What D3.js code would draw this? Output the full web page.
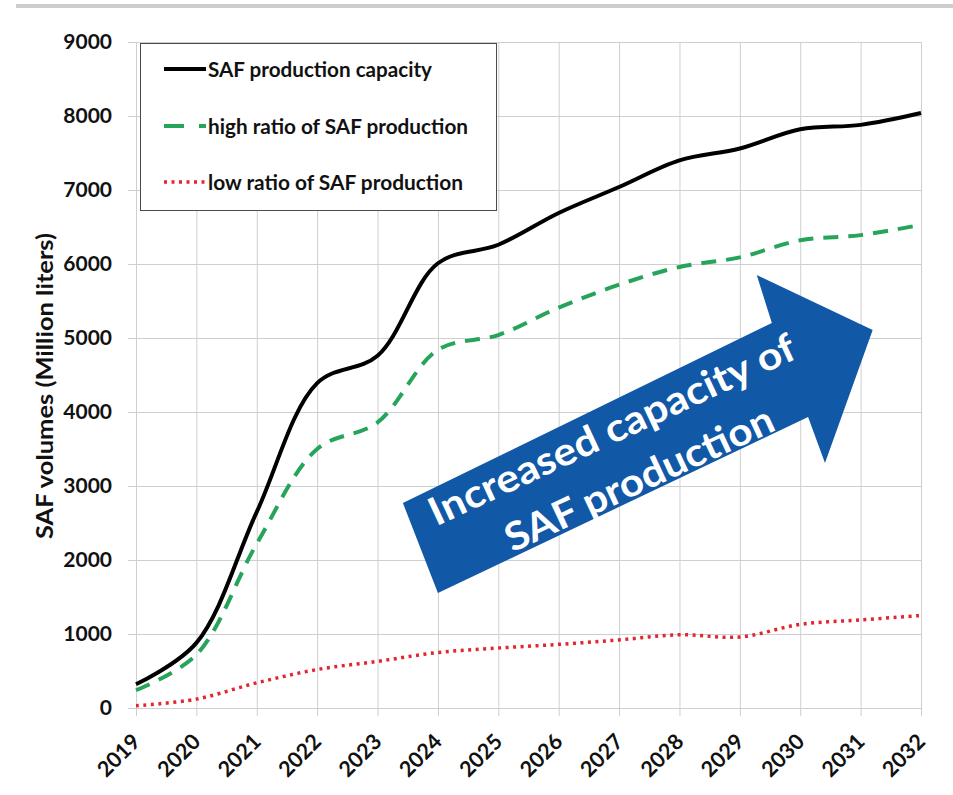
<!DOCTYPE html>
<html>
<head>
<meta charset="utf-8">
<script src="https://cdn.jsdelivr.net/npm/d3@7"></script>
<style>
  html, body { margin: 0; padding: 0; background: #fff; }
  svg { display: block; }
  text { font-family: Lato, "Open Sans", sans-serif; font-weight: bold; }
</style>
</head>
<body>
<svg id="chart" width="953" height="795"></svg>
<script>
// ---- data ----
const years = [2019, 2020, 2021, 2022, 2023, 2024, 2025, 2026, 2027, 2028, 2029, 2030, 2031, 2032];
const capacity = [320, 880, 2650, 4390, 4760, 6010, 6260, 6690, 7040, 7400, 7560, 7820, 7880, 8040];
const highRatio = [240, 720, 2220, 3500, 3860, 4840, 5040, 5410, 5720, 5960, 6090, 6320, 6390, 6530];
const lowRatio = [30, 120, 340, 520, 630, 750, 810, 860, 920, 990, 960, 1130, 1190, 1250];
const yTicks = [0, 1000, 2000, 3000, 4000, 5000, 6000, 7000, 8000, 9000];
const seriesNames = ["SAF production capacity", "high ratio of SAF production", "low ratio of SAF production"];
const yTitle = "SAF volumes (Million liters)";
const arrowText = ["Increased capacity of", "SAF production"];
// arrow annotation outline in data units (year, value)
const arrowYears = [2024.0, 2023.42, 2029.53, 2029.28, 2031.2, 2030.41, 2030.13];
const arrowValues = [1554, 2770, 5203, 5851, 5108, 3311, 3932];

// ---- layout ----
const pL = 136, pR = 921, pT = 42, pB = 708;
const svg = d3.select("#chart");

// top separator line
svg.append("rect").attr("x", 16).attr("y", 4).attr("width", 953 - 16).attr("height", 4).attr("fill", "#cdcdcd");

const x = d3.scaleLinear().domain([2019, 2032]).range([pL, pR]);
const y = d3.scaleLinear().domain([0, 9000]).range([pB, pT]);

const gridColor = "#cfcfcf";

// y axis with grid
const gy = svg.append("g").attr("transform", `translate(${pL},0)`)
  .call(d3.axisLeft(y).tickValues(yTicks).tickSizeInner(-(pR - pL)).tickSizeOuter(0).tickPadding(24).tickFormat(d3.format("d")));
gy.select(".domain").remove();
gy.selectAll(".tick line").attr("x1", -8).attr("stroke", gridColor).attr("stroke-width", 1);
gy.selectAll(".tick text").attr("font-size", 21).attr("fill", "#111").style("font-family", "Lato, sans-serif").style("font-weight", "bold");

// x axis with grid
const gx = svg.append("g").attr("transform", `translate(0,${pB})`)
  .call(d3.axisBottom(x).tickValues(years).tickSizeInner(-(pB - pT)).tickSizeOuter(0).tickFormat(d3.format("d")));
gx.select(".domain").remove();
gx.selectAll(".tick line").attr("y1", 8).attr("stroke", gridColor).attr("stroke-width", 1);
gx.selectAll(".tick text")
  .attr("y", 0).attr("dy", 0)
  .attr("font-size", 21.5).attr("fill", "#111")
  .style("font-family", "Lato, sans-serif").style("font-weight", "bold")
  .attr("text-anchor", "end")
  .attr("transform", "translate(5,35) rotate(-45)");

// y title
svg.append("text")
  .attr("transform", `translate(53,386) rotate(-90)`)
  .attr("text-anchor", "middle")
  .attr("font-size", 23).attr("fill", "#111")
  .attr("textLength", 306).attr("lengthAdjust", "spacingAndGlyphs")
  .text(yTitle);

// ---- lines ----
const line = d3.line().x((d, i) => x(years[i])).y(d => y(d)).curve(d3.curveCatmullRom.alpha(0.5));

svg.append("path").datum(lowRatio).attr("d", line)
  .attr("fill", "none").attr("stroke", "#e3262d").attr("stroke-width", 3.5).attr("stroke-dasharray", "3,4.5");
svg.append("path").datum(highRatio).attr("d", line)
  .attr("fill", "none").attr("stroke", "#25a45a").attr("stroke-width", 4).attr("stroke-dasharray", "15,10");
svg.append("path").datum(capacity).attr("d", line)
  .attr("fill", "none").attr("stroke", "#000").attr("stroke-width", 4);

// ---- arrow annotation ----
const arrowPts = arrowYears.map((yr, i) => [x(yr), y(arrowValues[i])]);
svg.append("path")
  .attr("d", d3.line()(arrowPts) + "Z")
  .attr("fill", "#1158a7");

const cx = x(2027.18), cy = y(3270);
const tg = svg.append("g").attr("transform", `translate(${cx},${cy}) rotate(-25)`);
tg.append("text").attr("x", -1).attr("y", -27).attr("text-anchor", "middle")
  .attr("font-size", 39).attr("fill", "#fff")
  .attr("textLength", 400).attr("lengthAdjust", "spacingAndGlyphs")
  .text(arrowText[0]);
tg.append("text").attr("x", 3).attr("y", 29).attr("text-anchor", "middle")
  .attr("font-size", 39).attr("fill", "#fff")
  .attr("textLength", 292).attr("lengthAdjust", "spacingAndGlyphs")
  .text(arrowText[1]);

// ---- legend ----
const lg = svg.append("g");
lg.append("rect").attr("x", 140.5).attr("y", 43.5).attr("width", 356).attr("height", 167)
  .attr("fill", "#fff").attr("stroke", "#4a4a4a").attr("stroke-width", 1);
const rowsY = [69, 126, 182];
const styles = [
  { stroke: "#000", width: 4, dash: null },
  { stroke: "#25a45a", width: 4, dash: "20,15" },
  { stroke: "#e3262d", width: 3.5, dash: "3,4.5" }
];
const legendLens = [224, 260, 255];
seriesNames.forEach((name, i) => {
  lg.append("line").attr("x1", 164).attr("x2", 206).attr("y1", rowsY[i]).attr("y2", rowsY[i])
    .attr("stroke", styles[i].stroke).attr("stroke-width", styles[i].width)
    .attr("stroke-dasharray", styles[i].dash);
  lg.append("text").attr("x", 208).attr("y", rowsY[i] + 8)
    .attr("font-size", 20.5).attr("fill", "#111")
    .attr("textLength", legendLens[i]).attr("lengthAdjust", "spacingAndGlyphs")
    .text(name);
});
</script>
</body>
</html>
